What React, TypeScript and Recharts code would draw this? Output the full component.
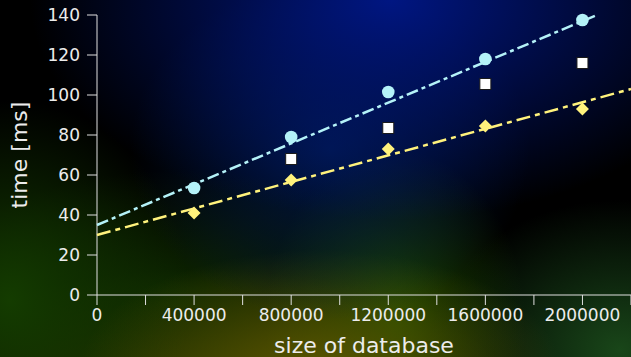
import { Label, Scatter, ScatterChart, XAxis, YAxis } from "recharts";

const sizes = [400000, 800000, 1200000, 1600000, 2000000];
const circleTimes = [53.5, 79, 101.5, 118, 137.5];
const squareSizes = [800000, 1200000, 1600000, 2000000];
const squareTimes = [68, 83.5, 105.5, 116];
const diamondTimes = [41, 57.5, 73, 84.5, 93];

// fitted lines, endpoints
const cyanFitX = [0, 2060000];
const cyanFitY = [35, 140];
const yellowFitX = [0, 2200000];
const yellowFitY = [30, 103];

const xTicks = [0, 200000, 400000, 600000, 800000, 1000000, 1200000, 1400000, 1600000, 1800000, 2000000, 2200000];
const yTicks = [0, 20, 40, 60, 80, 100, 120, 140];

const toPoints = (xs: number[], ys: number[]) => xs.map((x, i) => ({ x, y: ys[i] }));

const CYAN = "#b4f2f8";
const YELLOW = "#fff27c";
const AXIS = "#e0e0e0";
const FONT = "DejaVu Sans";

const Circle = (p: any) => <circle cx={p.cx} cy={p.cy} r={6.3} fill={CYAN} />;
const Square = (p: any) => (
  <rect x={p.cx - 5.5} y={p.cy - 5.5} width={11} height={11} fill="#ffffff" stroke="#1a1a1a" strokeWidth={1} />
);
const Diamond = (p: any) => (
  <polygon
    points={`${p.cx},${p.cy - 6.5} ${p.cx + 6.5},${p.cy} ${p.cx},${p.cy + 6.5} ${p.cx - 6.5},${p.cy}`}
    fill={YELLOW}
  />
);
const Nothing = () => <g />;

export default function App() {
  return (
    <div
      style={{
        position: "absolute",
        left: 0,
        top: 0,
        width: 631,
        height: 357,
        overflow: "hidden",
        background: [
          "radial-gradient(ellipse 360px 220px at 390px 0px, rgba(0,22,130,1), rgba(0,22,130,0))",
          "radial-gradient(ellipse 200px 170px at 330px 150px, rgba(0,30,90,0.75), rgba(0,30,90,0))",
          "radial-gradient(ellipse 240px 120px at 320px 370px, rgba(90,85,0,1), rgba(90,85,0,0))",
          "radial-gradient(ellipse 130px 170px at 395px 320px, rgba(30,80,0,0.9), rgba(30,80,0,0))",
          "radial-gradient(ellipse 190px 150px at 620px 350px, rgba(25,70,25,1), rgba(25,70,25,0))",
          "radial-gradient(ellipse 180px 200px at 10px 300px, rgba(20,60,0,1), rgba(20,60,0,0))",
          "radial-gradient(ellipse 260px 130px at 180px 300px, rgba(15,45,0,0.9), rgba(15,45,0,0))",
          "radial-gradient(ellipse 300px 110px at 200px 380px, rgba(55,60,0,1), rgba(55,60,0,0))",
          "#000",
        ].join(", "),
      }}
    >
      <ScatterChart width={631} height={357} margin={{ top: 15, right: 0, bottom: 0, left: 0 }}>
        <XAxis
          type="number"
          dataKey="x"
          domain={[0, 2200000]}
          ticks={xTicks}
          interval={0}
          height={62}
          tickSize={10}
          tickMargin={4}
          stroke={AXIS}
          tick={{ fill: "#ececec", fontSize: 17, fontFamily: FONT }}
          tickFormatter={(v: number) => (v % 400000 === 0 && v < 2200000 ? String(v) : "")}
        >
          <Label
            content={({ viewBox }: any) => (
              <text
                x={viewBox.x + viewBox.width / 2}
                y={viewBox.y + viewBox.height - 4}
                textAnchor="middle"
                fill="#ececec"
                fontSize={22}
                fontFamily={FONT}
              >
                size of database
              </text>
            )}
          />
        </XAxis>
        <YAxis
          type="number"
          dataKey="y"
          domain={[0, 140]}
          ticks={yTicks}
          interval={0}
          width={97}
          tickSize={10}
          tickMargin={7}
          stroke={AXIS}
          tick={{ fill: "#ececec", fontSize: 17, fontFamily: FONT }}
        >
          <Label
            content={({ viewBox }: any) => (
              <text
                x={27}
                y={viewBox.y + viewBox.height / 2}
                transform={`rotate(-90, 27, ${viewBox.y + viewBox.height / 2})`}
                textAnchor="middle"
                fill="#ececec"
                fontSize={22}
                fontFamily={FONT}
              >
                time [ms]
              </text>
            )}
          />
        </YAxis>
        <Scatter
          data={toPoints(yellowFitX, yellowFitY)}
          line={{ stroke: YELLOW, strokeWidth: 2.5, strokeDasharray: "14 5 5 5" }}
          shape={Nothing}
          isAnimationActive={false}
        />
        <Scatter
          data={toPoints(cyanFitX, cyanFitY)}
          line={{ stroke: CYAN, strokeWidth: 2.5, strokeDasharray: "12 4 4 4" }}
          shape={Nothing}
          isAnimationActive={false}
        />
        <Scatter data={toPoints(squareSizes, squareTimes)} shape={Square} isAnimationActive={false} />
        <Scatter data={toPoints(sizes, diamondTimes)} shape={Diamond} isAnimationActive={false} />
        <Scatter data={toPoints(sizes, circleTimes)} shape={Circle} isAnimationActive={false} />
      </ScatterChart>
    </div>
  );
}
